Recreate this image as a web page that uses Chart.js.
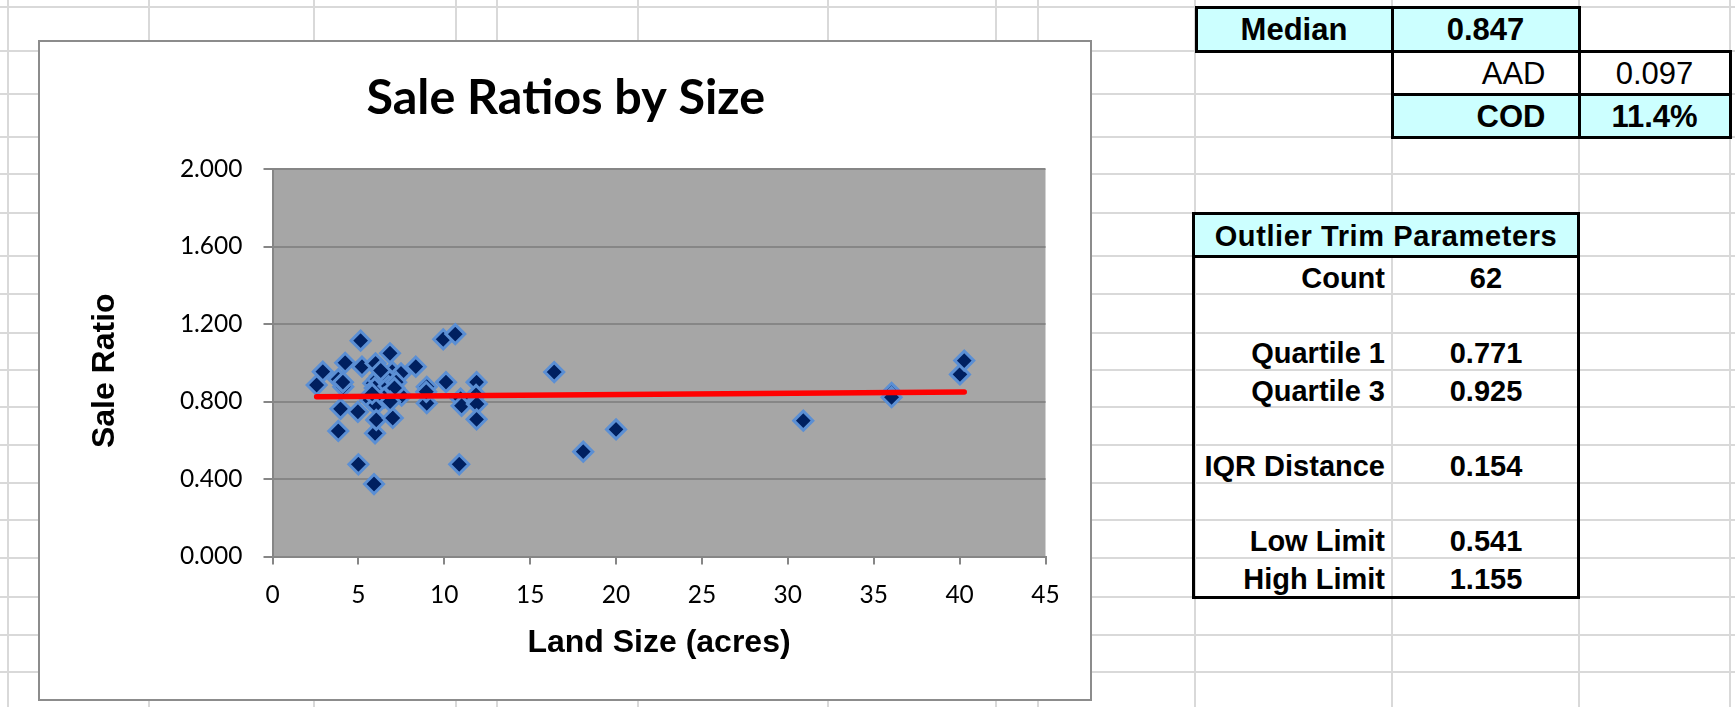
<!DOCTYPE html>
<html>
<head>
<meta charset="utf-8">
<script src="https://cdn.jsdelivr.net/npm/chart.js@4.4.1/dist/chart.umd.min.js"></script>
<style>
  html, body { margin: 0; padding: 0; background: #fff; }
  body { width: 1735px; height: 707px; position: relative; overflow: hidden;
         font-family: "Liberation Sans", Arial, sans-serif; color: #000; }
  .gl { position: absolute; background: #d9d9d9; z-index: 0; }
  #frame { position: absolute; left: 38px; top: 40px; width: 1054px; height: 661px;
           box-sizing: border-box; border: 2px solid #8c8c8c; background: #fff; z-index: 1; }
  #plotBox { position: absolute; left: 0; top: 0; width: 1050px; height: 657px; }
  .cell { position: absolute; box-sizing: border-box; border: 3px solid #000; z-index: 3;
          font-size: 31px; display: flex; align-items: center; white-space: nowrap; }
  .cyan { background: #ccffff; }
  .white { background: #fff; }
  .bold { font-weight: bold; }
  .ctr { justify-content: center; }
  .rgt { justify-content: flex-end; }
  .txt { position: absolute; z-index: 4; font-size: 29px; font-weight: bold; white-space: nowrap; }
  #trim { position: absolute; left: 1192px; top: 212px; width: 388px; height: 387px;
          box-sizing: border-box; border: 3px solid #000; z-index: 2; background: transparent; }
</style>
</head>
<body>
<div id="frame"><div id="plotBox"><canvas id="chart"></canvas></div></div>
<div id="trim"></div>
<script>
// Land size (acres) and sale ratio of each sale
const landSize = [2.57, 2.93, 3.83, 4.12, 4.23, 3.96, 3.83, 4.97, 5.00, 5.13,
                  5.21, 5.68, 5.87, 5.91, 5.97, 6.00, 6.02, 6.04, 6.26, 6.36,
                  6.65, 6.84, 6.97, 7.03, 7.00, 7.48, 7.52, 8.34, 8.98, 8.98,
                  9.94, 10.64, 10.10, 10.87, 10.95, 11.01, 11.88, 11.85, 11.90, 11.88,
                  16.40, 18.09, 20.00, 30.90, 36.04, 36.04, 40.02, 40.27, 6.10, 6.40,
                  6.55, 6.20, 5.95, 6.75, 7.20, 6.50, 5.80, 7.10, 8.95, 6.30,
                  4.10, 6.85];
const saleRatio = [0.885, 0.954, 0.915, 0.876, 1.000, 0.762, 0.648, 0.747, 0.476, 1.114,
                   0.980, 0.808, 0.894, 0.374, 0.636, 0.997, 0.782, 0.705, 0.933, 0.859,
                   0.902, 1.049, 0.954, 0.842, 0.715, 0.945, 0.830, 0.980, 0.876, 0.791,
                   1.121, 1.148, 0.900, 0.476, 0.815, 0.778, 0.900, 0.834, 0.787, 0.708,
                   0.952, 0.541, 0.656, 0.701, 0.845, 0.822, 0.940, 1.011, 0.915, 0.880,
                   0.935, 0.860, 0.870, 0.880, 0.900, 0.820, 0.840, 0.870, 0.850, 0.960,
                   0.900, 0.800];

// Linear trendline end points
const trendSize = [2.57, 40.27];
const trendRatio = [0.825, 0.849];

// Axis ticks
const xTickValues = [0, 5, 10, 15, 20, 25, 30, 35, 40, 45];
const yTickValues = [0, 0.4, 0.8, 1.2, 1.6, 2.0];

// Summary statistics
const summaryLabels = ['Median', 'AAD', 'COD'];
const summaryValues = ['0.847', '0.097', '11.4%'];

// Outlier trim parameters
const trimTitle = 'Outlier Trim Parameters';
const trimLabels = ['Count', 'Quartile 1', 'Quartile 3', 'IQR Distance', 'Low Limit', 'High Limit'];
const trimValues = ['62', '0.771', '0.925', '0.154', '0.541', '1.155'];
const trimRows = [0, 2, 3, 5, 7, 8]; // body row index of each entry

// ---- worksheet gridlines ----
const colLines = [8, 149, 314, 456, 497, 638, 828, 996, 1038, 1195, 1392, 1579, 1730];
const rowLines = [7, 51, 94, 137, 174, 213, 256, 294, 333, 370, 407, 445, 483, 520, 558, 597, 635, 672];
function line(x, y, w, h) {
  const d = document.createElement('div');
  d.className = 'gl';
  d.style.left = x + 'px'; d.style.top = y + 'px';
  d.style.width = w + 'px'; d.style.height = h + 'px';
  document.body.appendChild(d);
}
colLines.forEach(x => line(x - 1, 0, 2, 707));
rowLines.forEach(y => line(0, y - 1, 1735, 2));

// ---- summary cells ----
function cell(x0, x1, y0, y1, cls, text, extra) {
  const d = document.createElement('div');
  d.className = 'cell ' + cls;
  d.style.left = (x0 - 1.5) + 'px'; d.style.top = (y0 - 1.5) + 'px';
  d.style.width = (x1 - x0 + 3) + 'px'; d.style.height = (y1 - y0 + 3) + 'px';
  if (extra) Object.assign(d.style, extra);
  d.textContent = text;
  document.body.appendChild(d);
  return d;
}
cell(1196, 1392, 7.5, 51, 'cyan bold ctr', summaryLabels[0], {paddingTop: '2px'});
cell(1392, 1579, 7.5, 51, 'cyan bold ctr', summaryValues[0], {paddingTop: '2px'});
cell(1392, 1579, 51, 94, 'white rgt', summaryLabels[1], {paddingRight: '32px', paddingTop: '2px'});
cell(1579, 1730, 51, 94, 'white ctr', summaryValues[1], {paddingTop: '2px'});
cell(1392, 1579, 94, 137.5, 'cyan bold rgt', summaryLabels[2], {paddingRight: '32px', paddingTop: '2px'});
cell(1579, 1730, 94, 137.5, 'cyan bold ctr', summaryValues[2], {paddingTop: '2px'});

// ---- outlier trim table ----
const hdr = document.createElement('div');
hdr.className = 'cell cyan bold ctr';
Object.assign(hdr.style, {left: '1192px', top: '212px', width: '388px', height: '46px',
                          fontSize: '29px', letterSpacing: '0.6px', paddingTop: '2px'});
hdr.textContent = trimTitle;
document.body.appendChild(hdr);
const bodyTop = 256, rowH = 37.6;
trimLabels.forEach((lab, i) => {
  const y = bodyTop + trimRows[i] * rowH;
  const l = document.createElement('div');
  l.className = 'txt';
  Object.assign(l.style, {right: (1735 - 1385) + 'px', top: (y + 4) + 'px', lineHeight: rowH + 'px'});
  l.textContent = lab;
  document.body.appendChild(l);
  const v = document.createElement('div');
  v.className = 'txt';
  Object.assign(v.style, {left: '1392px', width: '188px', textAlign: 'center', top: (y + 4) + 'px', lineHeight: rowH + 'px'});
  v.textContent = trimValues[i];
  document.body.appendChild(v);
});

// ---- chart ----
const plotBackground = {
  id: 'plotBackground',
  beforeDraw(chart) {
    const {ctx, chartArea: a} = chart;
    ctx.save();
    ctx.fillStyle = '#a6a6a6';
    ctx.fillRect(a.left, a.top, a.right - a.left, a.bottom - a.top);
    ctx.restore();
  }
};

const points = landSize.map((x, i) => ({x: x, y: saleRatio[i]}));
const trend = trendSize.map((x, i) => ({x: x, y: trendRatio[i]}));
const tickFont = {family: 'Lato', size: 24.5};
const axisTitleFont = {family: 'Liberation Sans', size: 32, weight: 'bold', lineHeight: 1.2};

function draw() {
  new Chart(document.getElementById('chart'), {
    type: 'scatter',
    data: {
      datasets: [
        {
          type: 'line',
          data: trend,
          borderColor: '#ff0000',
          borderWidth: 5.5,
          borderCapStyle: 'round',
          pointRadius: 0,
          fill: false,
          order: 0
        },
        {
          data: points,
          pointStyle: 'rectRot',
          pointRadius: 9.5,
          backgroundColor: '#002060',
          borderColor: '#5b8fd4',
          borderWidth: 3,
          order: 1
        }
      ]
    },
    options: {
      responsive: true,
      maintainAspectRatio: false,
      devicePixelRatio: 1,
      animation: false,
      events: [],
      layout: {padding: {left: 46, right: 44.5, top: 0, bottom: 0}},
      plugins: {
        legend: {display: false},
        tooltip: {enabled: false},
        title: {
          display: true,
          text: 'Sale Ratios by Size',
          color: '#000',
          font: {family: 'Lato', size: 48.5, weight: 'bold', lineHeight: 1.2},
          padding: {top: 27.5, bottom: 41.3}
        }
      },
      scales: {
        x: {
          type: 'linear',
          min: 0, max: 45,
          afterBuildTicks: s => { s.ticks = xTickValues.map(v => ({value: v})); },
          afterFit: s => { s.height = 142.5; },
          grid: {drawOnChartArea: false, drawTicks: true, tickLength: 8, color: '#868686', lineWidth: 2},
          border: {display: true, color: '#868686', width: 2},
          ticks: {font: tickFont, color: '#000', padding: 16, maxRotation: 0, autoSkip: false},
          title: {display: true, text: 'Land Size (acres)', color: '#000', font: axisTitleFont,
                  padding: {top: 0, bottom: 37}}
        },
        y: {
          type: 'linear',
          min: 0, max: 2,
          afterBuildTicks: s => { s.ticks = yTickValues.map(v => ({value: v})); },
          afterFit: s => { s.width = 186.5; },
          grid: {color: '#868686', lineWidth: 2, tickLength: 9},
          border: {display: true, color: '#868686', width: 2},
          ticks: {font: tickFont, color: '#000', padding: 21, callback: v => Number(v).toFixed(3)},
          title: {display: true, text: 'Sale Ratio\u2002', color: '#000', font: axisTitleFont,
                  padding: {top: 0, bottom: 0}}
        }
      }
    },
    plugins: [plotBackground]
  });
}

Promise.all([
  document.fonts.load('bold 48px Lato'),
  document.fonts.load('24px Lato'),
  document.fonts.load('bold 32px "Liberation Sans"')
]).then(draw, draw);
</script>
</body>
</html>
